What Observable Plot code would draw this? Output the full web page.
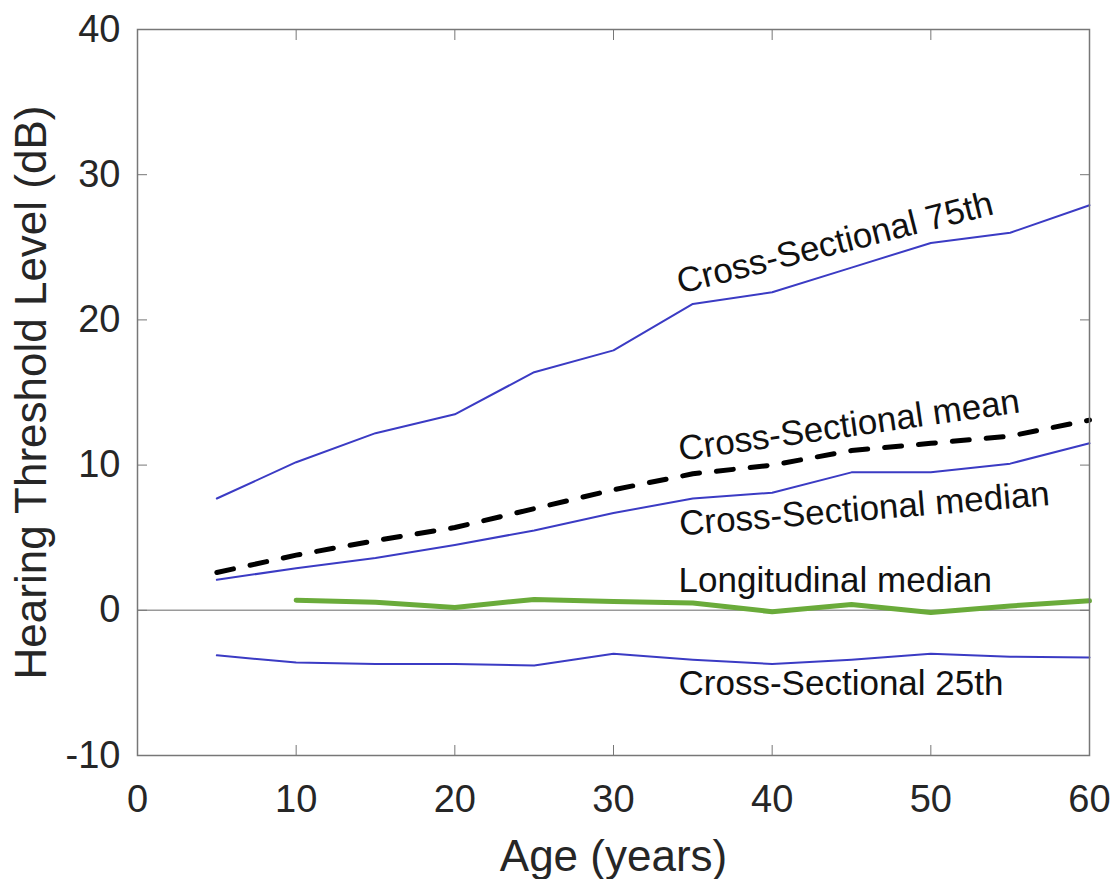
<!DOCTYPE html>
<html>
<head>
<meta charset="utf-8">
<script src="https://cdn.jsdelivr.net/npm/d3@7"></script>
<script src="https://cdn.jsdelivr.net/npm/@observablehq/plot@0.6"></script>
<style>
  html, body { margin: 0; padding: 0; background: #fff; }
  #chart svg { display: block; }
</style>
</head>
<body>
<div id="chart"></div>
<script>
// ---- data ----
const ages = [5, 10, 15, 20, 25, 30, 35, 40, 45, 50, 55, 60];
const p75 = [7.7, 10.2, 12.2, 13.5, 16.4, 17.9, 21.1, 21.9, 23.6, 25.3, 26.0, 27.9];
const meanVals = [2.6, 3.8, 4.8, 5.7, 7.0, 8.3, 9.4, 10.0, 11.0, 11.5, 12.0, 13.1];
const medianVals = [2.1, 2.9, 3.6, 4.5, 5.5, 6.7, 7.7, 8.1, 9.5, 9.5, 10.1, 11.5];
const p25 = [-3.1, -3.6, -3.7, -3.7, -3.8, -3.0, -3.4, -3.7, -3.4, -3.0, -3.2, -3.25];
const longAges = [10, 15, 20, 25, 30, 35, 40, 45, 50, 55, 60];
const longMedian = [0.7, 0.55, 0.2, 0.75, 0.6, 0.5, -0.1, 0.4, -0.15, 0.3, 0.65];

const xTicks = [0, 10, 20, 30, 40, 50, 60];
const yTicks = [-10, 0, 10, 20, 30, 40];

const labelTexts = ["Cross-Sectional 75th", "Cross-Sectional mean", "Cross-Sectional median", "Longitudinal median", "Cross-Sectional 25th"];
const labelAge = [34.2, 34.2, 34.2, 34.1, 34.1];
const labelDb = [21.8, 10.3, 5.15, 1.25, -5.85];
const labelAngle = [-14.2, -8.1, -4.7, 0, 0];

// ---- build tables ----
const toRows = (xs, ys) => xs.map((x, i) => ({age: x, db: ys[i]}));
const rows75 = toRows(ages, p75);
const rowsMean = toRows(ages, meanVals);
const rowsMedian = toRows(ages, medianVals);
const rows25 = toRows(ages, p25);
const rowsLong = toRows(longAges, longMedian);
const labels = labelTexts.map((t, i) => ({text: t, age: labelAge[i], db: labelDb[i], angle: labelAngle[i]}));

const FONT = "'Liberation Sans', Arial, Helvetica, sans-serif";
const AXIS = "#777777";
const BLUE = "#3b3bc4";
const GREEN = "#6aab3a";

const chart = Plot.plot({
  width: 1115,
  height: 879,
  marginLeft: 137,
  marginRight: 26,
  marginTop: 29,
  marginBottom: 124,
  style: {fontFamily: FONT, background: "#fff", color: "#262626"},
  x: {domain: [0, 60]},
  y: {domain: [-10, 40]},
  marks: [
    Plot.ruleY([0], {stroke: "#9a9a9a", strokeWidth: 1.5}),
    Plot.line(rows75, {x: "age", y: "db", stroke: BLUE, strokeWidth: 2}),
    Plot.line(rowsMedian, {x: "age", y: "db", stroke: BLUE, strokeWidth: 2}),
    Plot.line(rows25, {x: "age", y: "db", stroke: BLUE, strokeWidth: 2}),
    Plot.line(rowsLong, {x: "age", y: "db", stroke: GREEN, strokeWidth: 5}),
    Plot.line(rowsMean, {x: "age", y: "db", stroke: "#000", strokeWidth: 5, strokeDasharray: "17 17"}),
    Plot.text(labels, {
      x: "age", y: "db", text: "text", rotate: "angle",
      textAnchor: "start", lineAnchor: "bottom",
      fontSize: 35, fill: "#111"
    }),
    Plot.frame({stroke: AXIS, strokeWidth: 1.5}),
    // bottom axis: inward ticks and labels
    Plot.axisX({anchor: "bottom", ticks: xTicks, tickSize: -10, tickPadding: 40, label: null,
      tickFormat: d => String(d), fontSize: 38, stroke: AXIS, fill: "#262626"}),
    Plot.axisX({anchor: "top", ticks: xTicks, tickSize: -10, tickFormat: () => "", label: null, stroke: AXIS}),
    Plot.axisY({anchor: "left", ticks: yTicks, tickSize: -10, tickPadding: 27, label: null,
      tickFormat: d => String(d), fontSize: 38, stroke: AXIS, fill: "#262626"}),
    Plot.axisY({anchor: "right", ticks: yTicks, tickSize: -10, tickFormat: () => "", label: null, stroke: AXIS}),
    // axis titles
    Plot.text(["Age (years)"], {frameAnchor: "bottom", dy: 115, lineAnchor: "bottom",
      textAnchor: "middle", fontSize: 44, fill: "#262626"}),
    Plot.text(["Hearing Threshold Level (dB)"], {frameAnchor: "left", dx: -92, rotate: -90,
      textAnchor: "middle", lineAnchor: "bottom", fontSize: 44, fill: "#262626"})
  ]
});

document.getElementById("chart").appendChild(chart);
</script>
</body>
</html>
